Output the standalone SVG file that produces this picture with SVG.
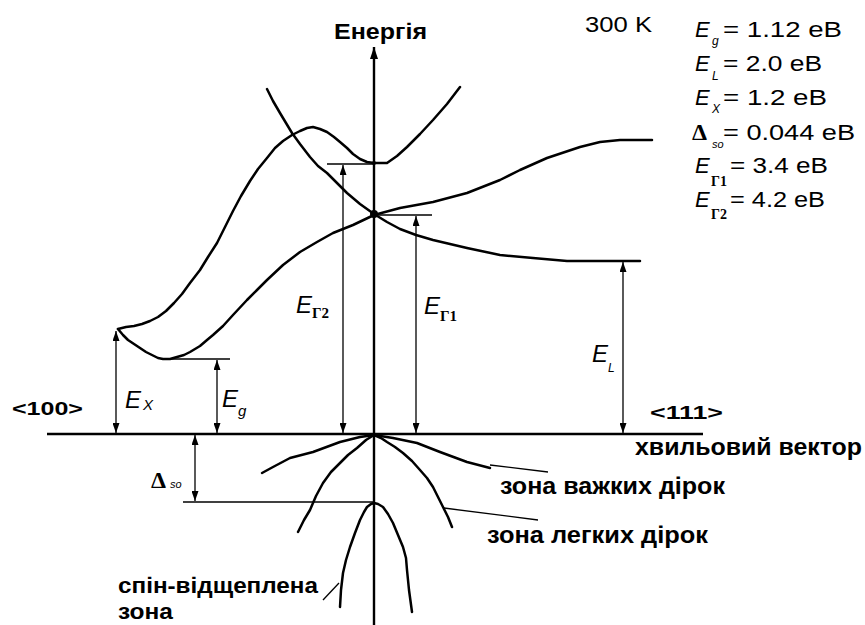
<svg xmlns="http://www.w3.org/2000/svg" width="865" height="625" viewBox="0 0 865 625">
<style>
.crv{fill:none;stroke:#000;stroke-width:2.5;stroke-linejoin:round;stroke-linecap:round}
.thin{fill:none;stroke:#000;stroke-width:1.3}
.ax{fill:none;stroke:#000;stroke-width:2.4}
.arr{fill:none;stroke:#000;stroke-width:1.3;marker-start:url(#ah);marker-end:url(#ah)}
.lbl{font-family:"Liberation Sans",Arial,sans-serif;font-weight:bold;fill:#000}
.reg{font-family:"Liberation Sans",Arial,sans-serif;fill:#000}
.it{font-family:"Liberation Sans",Arial,sans-serif;font-style:italic;fill:#000}
.gr{font-family:"Liberation Serif","Times New Roman",serif;font-weight:bold;fill:#000}
</style>
<defs>
<marker id="ah" viewBox="0 0 10 7" refX="10" refY="3.5" markerWidth="10" markerHeight="7" markerUnits="userSpaceOnUse" orient="auto-start-reverse"><path d="M0,0 L10,3.5 L0,7 z" fill="#000"/></marker>
<marker id="ah2" viewBox="0 0 12 8" refX="12" refY="4" markerWidth="12" markerHeight="8" markerUnits="userSpaceOnUse" orient="auto"><path d="M0,0 L12,4 L0,8 z" fill="#000"/></marker>
</defs>
<rect width="865" height="625" fill="#fff"/>

<g id="connectors">
<line class="ax" x1="47" y1="434" x2="703" y2="434"/>
<line class="ax" x1="374" y1="625" x2="374" y2="47" marker-end="url(#ah2)"/>
<line class="thin" x1="162" y1="359" x2="230" y2="359"/>
<line class="thin" x1="327" y1="164" x2="374" y2="164"/>
<line class="thin" x1="374" y1="215" x2="432" y2="215"/>
<line class="thin" x1="183" y1="502" x2="374" y2="502"/>
<line class="arr" x1="116" y1="331" x2="116" y2="433"/>
<line class="arr" x1="217" y1="360" x2="217" y2="433"/>
<line class="arr" x1="343" y1="165" x2="343" y2="433"/>
<line class="arr" x1="416" y1="216" x2="416" y2="433"/>
<line class="arr" x1="623" y1="262" x2="623" y2="433"/>
<line class="arr" x1="195" y1="435" x2="195" y2="501"/>
<line class="thin" x1="490" y1="465" x2="548" y2="472" stroke-width="1"/>
<line class="thin" x1="444" y1="508" x2="538" y2="520" stroke-width="1"/>
<line class="thin" x1="323" y1="600" x2="339" y2="583" stroke-width="1"/>
</g>

<g id="band-x-upper">
<path class="crv" d="M118,329 L126,327 134,326 142,324 150,321 158,317 166,311 174,303 182,294 190,283 200,270 208,257 217,243 225,227 233,211 241,196 250,181 258,169 267,158 275,148 283,141 292,135 300,131 307,128 313,127 320,129 327,132 334,137 340,142 347,148 353,154 360,159 367,162 374,163 387,163 397,156 407,147 420,134 433,120 447,104 460,87"/>
</g>
<g id="band-x-lower">
<path class="crv" d="M118,329 L123,335 128,340 134,344 140,348 146,352 152,355 158,358 163,359 170,359 177,357 184,355 190,352 200,346 207,340 213,335 223,326 233,315 247,300 257,290 267,280 283,265 300,252 317,242 333,233 353,225 374,215 400,208 433,202 467,193 500,180 520,170 547,158 580,147 600,142 620,140 652,140"/>
</g>
<g id="band-l">
<path class="crv" d="M267,89 L273,101 280,113 286,123 292,133 300,144 310,157 318,166 327,173 337,183 347,193 360,204 374,214 387,222 400,229 416,235 433,240 450,244 467,248 500,255 533,258 567,261 640,261"/>
<circle cx="374" cy="214" r="4" fill="#000"/>
<circle cx="374" cy="163" r="2" fill="#000"/>
</g>
<g id="band-heavy">
<path class="crv" d="M262,473 L273,467 290,458 313,452 340,442 360,437 374,435 393,438 417,443 440,452 467,462 490,468"/>
</g>
<g id="band-light">
<path class="crv" d="M298,532 L304,520 310,510 316,496 323,483 331,472 340,463 348,455 357,448 366,440 374,435 381,438 387,442 395,447 403,453 412,461 420,470 427,478 433,487 438,497 443,507 448,517 452,527"/>
</g>
<g id="band-split">
<path class="crv" d="M340,607 L341,590 343,573 346,560 350,547 355,533 360,520 364,512 367,507 371,504 374,503 378,504 383,507 388,514 393,523 398,535 403,547 406,558 407,570 409,590 412,612"/>
</g>

<g id="axis-labels">
<text class="lbl" x="334" y="39" font-size="22" textLength="93" lengthAdjust="spacingAndGlyphs">Енергія</text>
<text class="lbl" x="12" y="415" font-size="19" textLength="71" lengthAdjust="spacingAndGlyphs">&lt;100&gt;</text>
<text class="lbl" x="650" y="419" font-size="19" textLength="73" lengthAdjust="spacingAndGlyphs">&lt;111&gt;</text>
<text class="lbl" x="635" y="455" font-size="23" textLength="227" lengthAdjust="spacingAndGlyphs">хвильовий вектор</text>
</g>
<g id="band-labels">
<text class="lbl" x="500" y="494" font-size="23" textLength="225" lengthAdjust="spacingAndGlyphs">зона важких дірок</text>
<text class="lbl" x="487" y="543" font-size="23" textLength="221" lengthAdjust="spacingAndGlyphs">зона легких дірок</text>
<text class="lbl" x="118" y="593" font-size="22" textLength="200" lengthAdjust="spacingAndGlyphs">спін-відщеплена</text>
<text class="lbl" x="118" y="619" font-size="22" textLength="55" lengthAdjust="spacingAndGlyphs">зона</text>
</g>
<g id="energy-labels">
<text class="it" x="125" y="408" font-size="24">E</text><text class="it" x="143" y="410" font-size="15">X</text>
<text class="it" x="222" y="407" font-size="24">E</text><text class="it" x="238" y="416" font-size="15">g</text>
<text class="it" x="296" y="313" font-size="24">E</text><text class="gr" x="312" y="318" font-size="15">Γ2</text>
<text class="it" x="424" y="314" font-size="24">E</text><text class="gr" x="440" y="321" font-size="15">Γ1</text>
<text class="it" x="592" y="362" font-size="24">E</text><text class="it" x="608" y="372" font-size="12">L</text>
<text class="gr" x="151" y="488" font-size="24">Δ</text><text class="it" x="170" y="488" font-size="11">so</text>
</g>
<g id="legend">
<text class="reg" x="585" y="32" font-size="22" textLength="67" lengthAdjust="spacingAndGlyphs">300 K</text>
<text class="it" x="695" y="37" font-size="22">E</text><text class="it" x="712" y="45" font-size="12">g</text>
<text class="reg" x="723" y="37" font-size="22" textLength="119" lengthAdjust="spacingAndGlyphs">= 1.12  еВ</text>
<text class="it" x="695" y="71" font-size="22">E</text><text class="it" x="712" y="80" font-size="12">L</text>
<text class="reg" x="723" y="71" font-size="22" textLength="99" lengthAdjust="spacingAndGlyphs">= 2.0 еВ</text>
<text class="it" x="695" y="105" font-size="22">E</text><text class="it" x="712" y="113" font-size="12">X</text>
<text class="reg" x="723" y="105" font-size="22" textLength="104" lengthAdjust="spacingAndGlyphs">= 1.2 еВ</text>
<text class="gr" x="692" y="140" font-size="24">Δ</text><text class="it" x="712" y="148" font-size="11">so</text>
<text class="reg" x="723" y="140" font-size="22" textLength="132" lengthAdjust="spacingAndGlyphs">= 0.044 еВ</text>
<text class="it" x="695" y="173" font-size="22">E</text><text class="gr" x="711" y="186" font-size="14">Γ1</text>
<text class="reg" x="730" y="173" font-size="22" textLength="98" lengthAdjust="spacingAndGlyphs">= 3.4  еВ</text>
<text class="it" x="695" y="207" font-size="22">E</text><text class="gr" x="711" y="219" font-size="14">Γ2</text>
<text class="reg" x="730" y="207" font-size="22" textLength="95" lengthAdjust="spacingAndGlyphs">= 4.2 еВ</text>
</g>
</svg>
